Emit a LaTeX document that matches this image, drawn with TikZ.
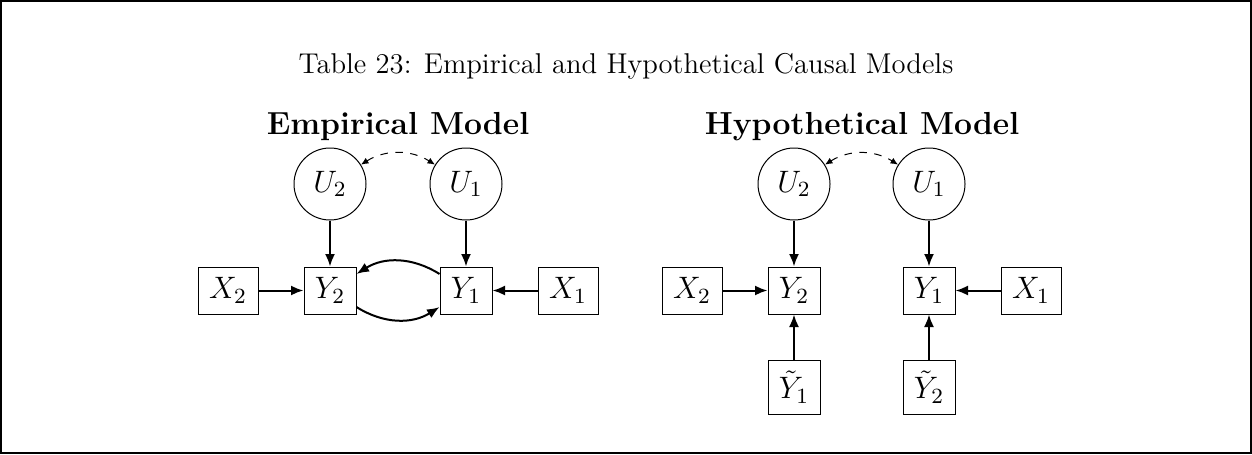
\RequirePackage{fix-cm}
\documentclass[tikz,border=0pt]{standalone}
\usetikzlibrary{arrows,arrows.meta}
\begin{document}
\begin{tikzpicture}[x=0.4pt,y=-0.4pt,
  font=\fontsize{12.4}{15}\selectfont,
  latent/.style={circle,draw,minimum size=28.8pt,inner sep=0pt},
  ybox/.style={rectangle,draw,minimum width=20.8pt,minimum height=18.8pt,inner sep=1pt},
  xbox/.style={rectangle,draw,minimum width=24pt,minimum height=18.8pt,inner sep=1pt},
  tbox/.style={rectangle,draw,minimum width=20.8pt,minimum height=21.6pt,inner sep=1pt},
  ttl/.style={font=\fontsize{12.75}{15.5}\selectfont\bfseries},
  capt/.style={font=\fontsize{11.45}{14}\selectfont},
  arr/.style={-{Latex[length=5pt,width=4pt]},thick},
  corr/.style={{Latex[length=3pt,width=2.6pt]}-{Latex[length=3pt,width=2.6pt]},dashed,thin}]
\useasboundingbox (0,0) rectangle (1252,454);
\draw[line width=0.8pt] (1,1) rectangle (1251,453);
\node[capt] (cap) at (626,66) {Table 23: Empirical and Hypothetical Causal Models};
% Empirical
\node[ttl] (et) at (398,127) {Empirical Model};
\node[latent] (eU2) at (330,184) {$U_2$};
\node[latent] (eU1) at (466,184) {$U_1$};
\node[ybox] (eY2) at (330,290.5) {$Y_2$};
\node[ybox] (eY1) at (466,290.5) {$Y_1$};
\node[xbox] (eX2) at (228,290.5) {$X_2$};
\node[xbox] (eX1) at (568,290.5) {$X_1$};
\draw[corr] (eU2) to[bend left=32] (eU1);
\draw[arr] (eU2) -- (eY2);
\draw[arr] (eU1) -- (eY1);
\draw[arr] (eX2) -- (eY2);
\draw[arr] (eX1) -- (eY1);
\draw[arr] (eY1) to[bend right=32] (eY2);
\draw[arr] (eY2) to[bend right=32] (eY1);
% Hypothetical
\node[ttl] (ht) at (862,127) {Hypothetical Model};
\node[latent] (hU2) at (794,184) {$U_2$};
\node[latent] (hU1) at (929,184) {$U_1$};
\node[ybox] (hY2) at (794,290.5) {$Y_2$};
\node[ybox] (hY1) at (929,290.5) {$Y_1$};
\node[xbox] (hX2) at (692,290.5) {$X_2$};
\node[xbox] (hX1) at (1031,290.5) {$X_1$};
\node[tbox] (hT1) at (794,387) {$\tilde{Y}_1$};
\node[tbox] (hT2) at (929,387) {$\tilde{Y}_2$};
\draw[corr] (hU2) to[bend left=32] (hU1);
\draw[arr] (hU2) -- (hY2);
\draw[arr] (hU1) -- (hY1);
\draw[arr] (hX2) -- (hY2);
\draw[arr] (hX1) -- (hY1);
\draw[arr] (hT1) -- (hY2);
\draw[arr] (hT2) -- (hY1);
\end{tikzpicture}
\end{document}
